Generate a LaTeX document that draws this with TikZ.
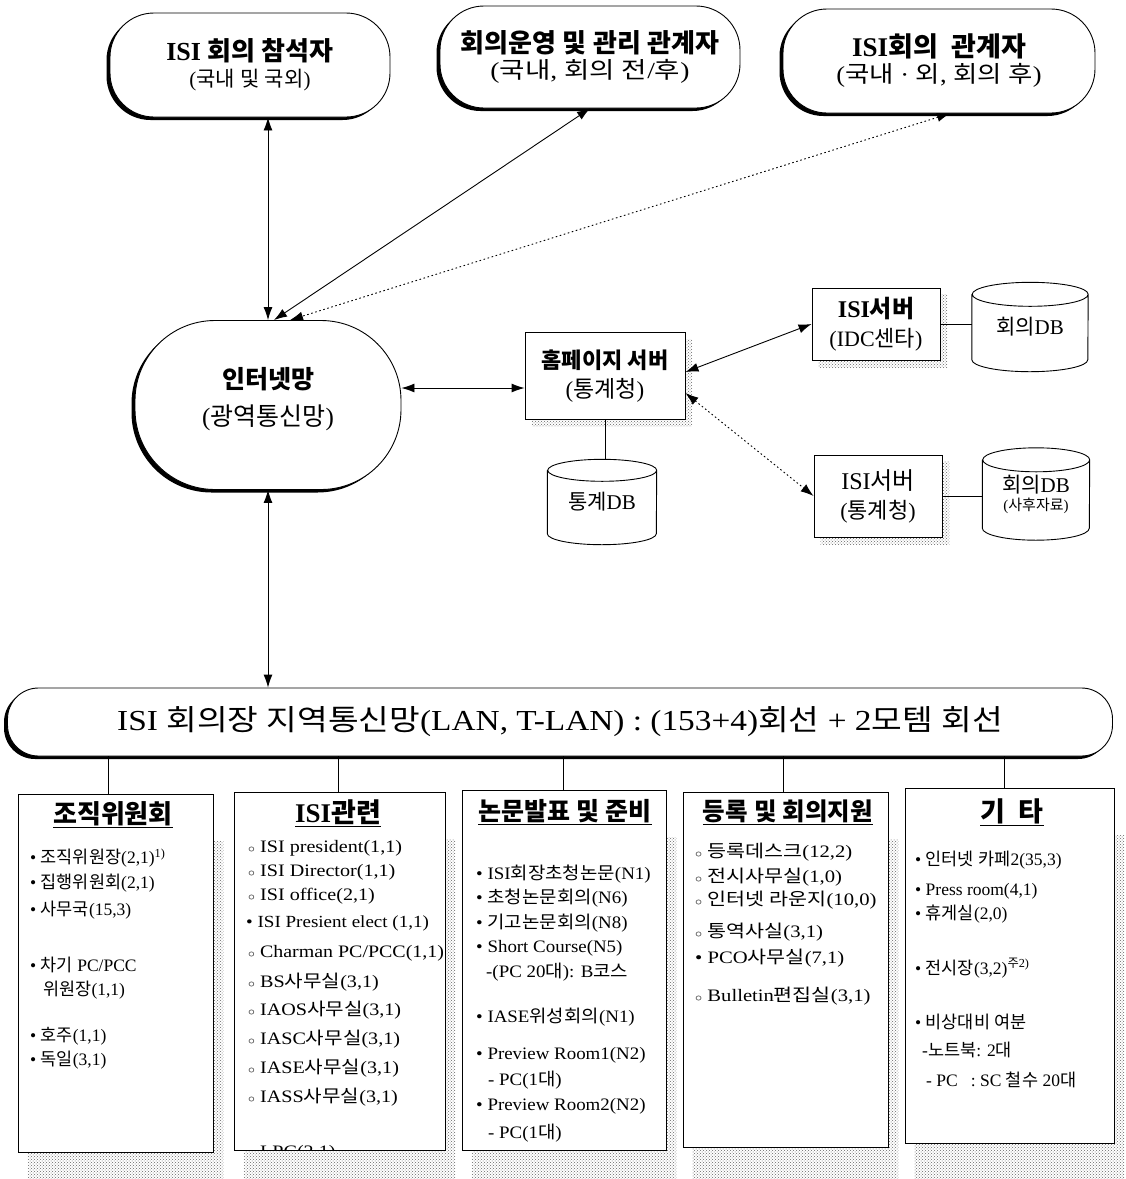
\documentclass[tikz,border=0pt]{standalone}
\usepackage{fontspec}
\usepackage{graphicx}
\setmainfont{Liberation Serif}
\newfontfamily\krfont{Noto Sans CJK KR}
\usetikzlibrary{arrows.meta,shadows,patterns,backgrounds}
% automatic switch to the Korean font for Hangul syllables
\XeTeXinterchartokenstate=1
\newXeTeXintercharclass\KrClass
\newcount\krcnt
\krcnt="AC00
\loop\ifnum\krcnt<"D7A4 \XeTeXcharclass\krcnt=\KrClass \advance\krcnt by 1 \repeat
\XeTeXinterchartoks 0 \KrClass = {\krfont}
\XeTeXinterchartoks 4095 \KrClass = {\krfont}
\XeTeXinterchartoks \KrClass 0 = {\rmfamily}
\XeTeXinterchartoks \KrClass 4095 = {\rmfamily}
\newcommand\setfs[2]{\fontsize{#1}{#2}\selectfont}
\newcommand\hb{\ensuremath{\scriptstyle\circ}}
\newcommand\hs[2]{\scalebox{#1}[1]{#2}}
\newcommand\cylpath[3]{%
  \draw[lw] ([yshift=-#3pt]#1.north west) -- ([yshift=#3pt]#1.south west)
    arc[start angle=180,end angle=360,x radius=#2pt,y radius=#3pt]
    -- ([yshift=-#3pt]#1.north east)
    arc[start angle=0,end angle=180,x radius=#2pt,y radius=#3pt]
    arc[start angle=180,end angle=360,x radius=#2pt,y radius=#3pt];}
\begin{document}
\begin{tikzpicture}[x=1pt,y=-1pt,
  lw/.style={line width=0.9pt},
  blk/.style={drop shadow={shadow xshift=-3.5pt,shadow yshift=-3pt,opacity=1,fill=black}},
  topbox/.style={draw,lw,fill=white,rounded corners=44pt,align=center,inner sep=0pt,blk,
    font=\setfs{21}{26}},
  netbox/.style={draw,lw,fill=white,rounded corners=80pt,inner sep=0pt,blk},
  nettxt/.style={align=center,inner sep=0pt,font=\setfs{25}{37}},
  lanbox/.style={draw,lw,fill=white,rounded corners=31pt,inner sep=0pt,blk,
    font=\setfs{29}{32}},
  srv/.style={draw,lw,fill=white,align=center,inner sep=0pt,font=\setfs{22}{29}},
  dbtxt/.style={inner sep=0pt,align=center,font=\setfs{21}{22}},
  colbox/.style={draw,lw,fill=white,inner sep=0pt},
  coltitle/.style={inner sep=0pt,font=\setfs{26}{28}\bfseries},
  itm/.style={anchor=west,inner sep=0pt,font=\setfs{17.5}{20}},
  stip/.style={pattern=crosshatch dots,pattern color=black!60},
  dbl/.style={lw,>={Latex[length=13pt,width=9pt]},<->},
  dotl/.style={dash pattern=on 1.6pt off 2.6pt}
]
\clip (0,0) rectangle (1126,1179);

% ---------- top boxes ----------
\node[topbox,minimum width=280pt,minimum height=104pt] (b1) at (250,65)
  {{\setfs{26}{26}\bfseries ISI 회의 참석자}\\(국내 및 국외)};
\node[topbox,minimum width=300pt,minimum height=102pt] (b2) at (590,57)
  {{\setfs{26}{26}\bfseries 회의운영 및 관리 관계자}\\\scalebox{1.2}[1]{\setfs{23}{26}(국내, 회의 전/후)}};
\node[topbox,minimum width=312pt,minimum height=104pt] (b3) at (939,61)
  {{\setfs{27}{26}\bfseries ISI회의\ \ 관계자}\\\scalebox{1.15}[1]{\setfs{23}{26}(국내 · 외, 회의 후)}};

% ---------- internet ----------
\node[netbox,minimum width=266pt,minimum height=169pt] (inet) at (268,405) {};
\node[nettxt] (inettxt) at ([yshift=6pt]inet.center) {{\bfseries 인터넷망}\\(광역통신망)};

% ---------- servers ----------
\node[srv,minimum width=160pt,minimum height=87pt] (hp) at (605,376)
  {{\bfseries 홈페이지 서버}\\{\setfs{23}{26}(통계청)}};
\node[srv,minimum width=128pt,minimum height=72pt] (isi1) at (876,324)
  {{\setfs{24}{26}\bfseries ISI서버}\\(IDC센타)};
\node[srv,minimum width=128pt,minimum height=82pt] (isi2) at (878,496)
  {{\setfs{24}{26}ISI서버}\\(통계청)};

% ---------- databases ----------
\node[dbtxt,minimum width=116pt,minimum height=89pt] (db1) at (1030,327) {회의DB};
\node[dbtxt,minimum width=109pt,minimum height=85pt] (db2) at (602,502) {통계DB};
\node[dbtxt,minimum width=107pt,minimum height=92pt] (db3) at (1036,494)
  {회의DB\\[-4pt]{\setfs{15}{16}(사후자료)}};
\cylpath{db1}{58}{12}
\cylpath{db2}{54.5}{11}
\cylpath{db3}{53.5}{12}

% ---------- LAN ----------
\node[lanbox,minimum width=1105pt,minimum height=68pt] (lan) at (560,722)
  {\scalebox{1.15}[1]{ISI 회의장 지역통신망(LAN, T-LAN) : (153+4)회선 + 2모템 회선}};

% ---------- column boxes ----------
\node[colbox,minimum width=195pt,minimum height=358pt] (c1) at (115.5,973) {};
\node[colbox,minimum width=211pt,minimum height=358pt] (c2) at (339.5,971) {};
\node[colbox,minimum width=204pt,minimum height=360pt] (c3) at (564,970) {};
\node[colbox,minimum width=205pt,minimum height=355pt] (c4) at (785.5,969.5) {};
\node[colbox,minimum width=209pt,minimum height=355pt] (c5) at (1009.5,965.5) {};

% ---------- shadows ----------
\begin{scope}[on background layer]
  \fill[white] (0,0) rectangle (1126,1179);
  \foreach \c in {c1,c2,c3,c4,c5}
    \fill[stip] ([shift={(10pt,-48pt)}]\c.north west) rectangle ([shift={(10pt,-48pt)}]\c.south east);
  \foreach \c in {hp,isi1,isi2}
    \fill[stip] ([shift={(7pt,-7pt)}]\c.north west) rectangle ([shift={(7pt,-7pt)}]\c.south east);
\end{scope}

% ---------- connectors ----------
\draw[dbl] (b1.south -| inet.north) -- (inet.north);
\draw[dbl] (b2.south) -- ([xshift=6pt]inet.north);
\draw[dbl,dotl] ([xshift=11pt]b3.south) -- ([xshift=22pt]inet.north);
\draw[dbl] ([yshift=17pt]inet.east) -- ([yshift=17pt]inet.east -| hp.west);
\draw[dbl] ([yshift=4pt]hp.east) -- (isi1.west);
\draw[dbl,dotl] ([yshift=-17pt]hp.east) -- (isi2.west);
\draw[lw] (isi1.east) -- (isi1.east -| db1.west);
\draw[lw] (isi2.east) -- (isi2.east -| db3.west);
\draw[lw] (hp.south) -- (hp.south |- db2.north);
\draw[dbl] (inet.south) -- (inet.south |- lan.north);
\draw[lw] ([xshift=-7pt]c1.north |- lan.south) -- ([xshift=-7pt]c1.north);
\draw[lw] ([xshift=-1pt]c2.north |- lan.south) -- ([xshift=-1pt]c2.north);
\draw[lw] ([xshift=-1pt]c3.north |- lan.south) -- ([xshift=-1pt]c3.north);
\draw[lw] ([xshift=-2pt]c4.north |- lan.south) -- ([xshift=-2pt]c4.north);
\draw[lw] ([xshift=-5pt]c5.north |- lan.south) -- ([xshift=-5pt]c5.north);

% ---------- column titles ----------
\node[coltitle] (t1) at (113,815) {\underline{조직위원회}};
\node[coltitle,font=\setfs{27}{28}\bfseries] (t2) at (338,813) {\underline{ISI관련}};
\node[coltitle,font=\setfs{25}{28}\bfseries] (t3) at (565,812) {\underline{논문발표 및 준비}};
\node[coltitle,font=\setfs{24.5}{28}\bfseries] (t4) at (788,812) {\underline{등록 및 회의지원}};
\node[coltitle,font=\setfs{27}{28}\bfseries] (t5) at (1012,812) {\underline{기\ \ 타}};

% ---------- column 1 ----------
\node[itm] (i11) at (30,858) {• 조직위원장(2,1)\textsuperscript{1)}};
\node[itm] (i12) at (30,883) {• 집행위원회(2,1)};
\node[itm] (i13) at (30,910) {• 사무국(15,3)};
\node[itm] (i14) at (30,965) {• 차기 PC/PCC};
\node[itm] (i15) at (43,990) {위원장(1,1)};
\node[itm] (i16) at (30,1036) {• 호주(1,1)};
\node[itm] (i17) at (30,1060) {• 독일(3,1)};

% ---------- column 2 ----------
\node[itm] (i21) at (248,848) {\hs{1.15}{\hb\ ISI president(1,1)}};
\node[itm] (i22) at (248,872) {\hs{1.15}{\hb\ ISI Director(1,1)}};
\node[itm] (i23) at (248,896) {\hs{1.15}{\hb\ ISI office(2,1)}};
\node[itm,font=\setfs{17}{19}] (i24) at (246,923) {\hs{1.12}{• ISI Presient elect (1,1)}};
\node[itm] (i25) at (248,953) {\hs{1.14}{\hb\ Charman PC/PCC(1,1)}};
\node[itm] (i26) at (248,982) {\hs{1.15}{\hb\ BS사무실(3,1)}};
\node[itm] (i27) at (248,1010) {\hs{1.15}{\hb\ IAOS사무실(3,1)}};
\node[itm] (i28) at (248,1039) {\hs{1.15}{\hb\ IASC사무실(3,1)}};
\node[itm] (i29) at (248,1068) {\hs{1.15}{\hb\ IASE사무실(3,1)}};
\node[itm] (i2a) at (248,1097) {\hs{1.15}{\hb\ IASS사무실(3,1)}};
\begin{scope}
  \clip (c2.north west) rectangle ([yshift=1pt]c2.south east);
  \node[itm] (i2b) at (248,1153) {\hs{1.15}{\hb\ LPC(2,1)}};
\end{scope}

% ---------- column 3 ----------
\node[itm] (i31) at (476,874) {\hs{1.08}{• ISI회장초청논문(N1)}};
\node[itm] (i32) at (476,898) {\hs{1.08}{• 초청논문회의(N6)}};
\node[itm] (i33) at (476,923) {\hs{1.08}{• 기고논문회의(N8)}};
\node[itm] (i34) at (476,948) {\hs{1.08}{• Short Course(N5)}};
\node[itm] (i35) at (486,972) {\hs{1.08}{-(PC 20대): B코스}};
\node[itm] (i36) at (476,1017) {\hs{1.08}{• IASE위성회의(N1)}};
\node[itm] (i37) at (476,1055) {\hs{1.08}{• Preview Room1(N2)}};
\node[itm] (i38) at (488,1080) {\hs{1.08}{- PC(1대)}};
\node[itm] (i39) at (476,1106) {\hs{1.08}{• Preview Room2(N2)}};
\node[itm] (i3a) at (488,1133) {\hs{1.08}{- PC(1대)}};

% ---------- column 4 ----------
\node[itm] (i41) at (695,852) {\hs{1.18}{\hb\ 등록데스크(12,2)}};
\node[itm] (i42) at (695,877) {\hs{1.18}{\hb\ 전시사무실(1,0)}};
\node[itm] (i43) at (695,900) {\hs{1.18}{\hb\ 인터넷 라운지(10,0)}};
\node[itm] (i44) at (695,932) {\hs{1.18}{\hb\ 통역사실(3,1)}};
\node[itm] (i45) at (695,958) {\hs{1.18}{• PCO사무실(7,1)}};
\node[itm] (i46) at (695,996) {\hs{1.18}{\hb\ Bulletin편집실(3,1)}};

% ---------- column 5 ----------
\node[itm] (i51) at (915,860) {• 인터넷 카페2(35,3)};
\node[itm] (i52) at (915,891) {• Press room(4,1)};
\node[itm] (i53) at (915,914) {• 휴게실(2,0)};
\node[itm] (i54) at (915,968) {• 전시장(3,2)\textsuperscript{주2)}};
\node[itm] (i55) at (915,1022) {• 비상대비 여분};
\node[itm] (i56) at (922,1050) {-노트북: 2대};
\node[itm] (i57) at (926,1080) {- PC\ \ \ : SC 철수 20대};
\end{tikzpicture}
\end{document}
